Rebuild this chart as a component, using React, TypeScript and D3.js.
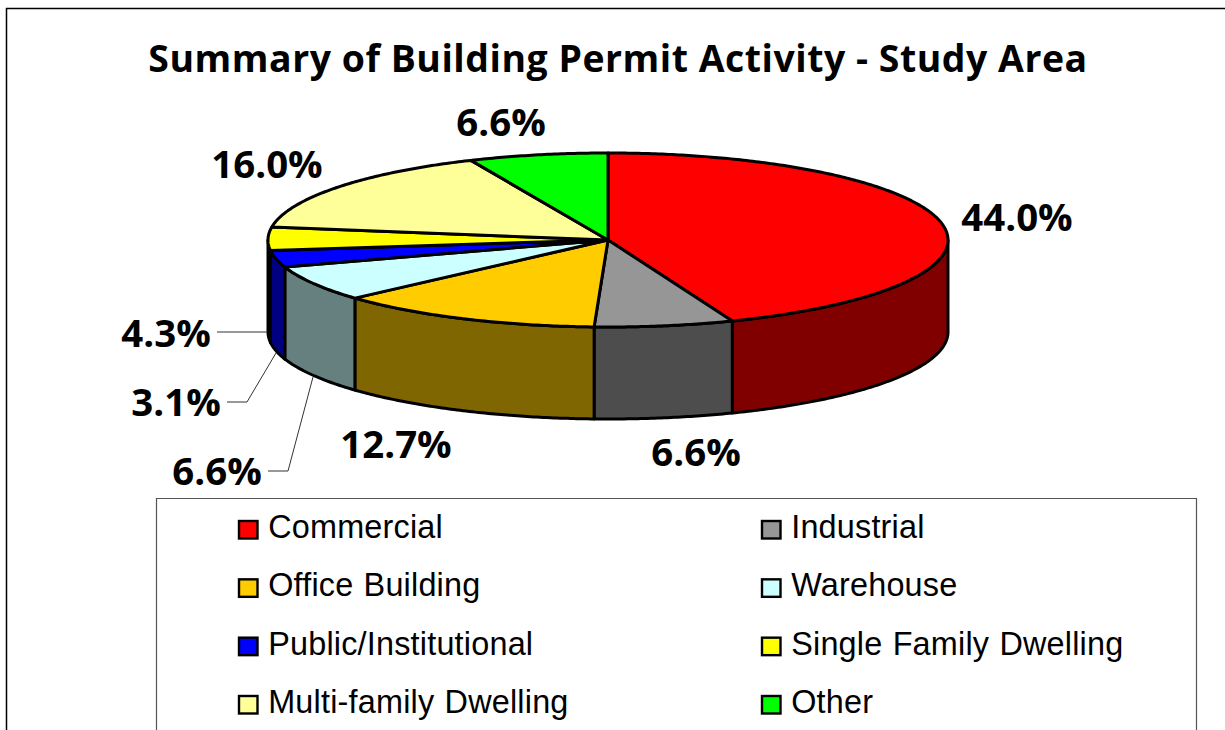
import React from 'react';
import * as d3 from 'd3';

const categories = ['Commercial', 'Industrial', 'Office Building', 'Warehouse', 'Public/Institutional', 'Single Family Dwelling', 'Multi-family Dwelling', 'Other'];
const shares = [44.0, 6.6, 12.7, 6.6, 3.1, 4.3, 16.0, 6.6];
const topColors = ['#ff0000', '#969696', '#ffcc00', '#ccffff', '#0000ff', '#ffff00', '#ffff99', '#00ff00'];
const sideColors = ['#800000', '#4d4d4d', '#806600', '#668080', '#000080', '#808000', '#808050', '#008000'];

const cx = 608, cy = 240, rx = 340, ry = 87, depth = 92;

// where each percent label sits, same order as the slices
const labelPos = [[1017, 231], [696, 466], [396, 458], [217, 485], [176, 416], [166, 347], [267, 178], [501, 136]];
const leaders = [
  null, null, null,
  [[268, 471], [288, 471], [313, 377]],
  [[227, 402], [247, 402], [276, 353]],
  [[217, 332], [267, 332]],
  null, null,
];

const rowY = d3.scaleLinear().domain([0, 3]).range([521, 696]);
const colX = d3.scaleOrdinal<number, number>().domain([0, 1]).range([239, 762]);

const px = (a: number) => cx + rx * Math.sin(a);
const py = (a: number) => cy - ry * Math.cos(a);
const line = d3.line<[number, number]>();

function rimPoints(a0: number, a1: number, dy: number): [number, number][] {
  const n = Math.max(2, Math.ceil(Math.abs(a1 - a0) / 0.01));
  return d3.range(n + 1).map((i) => {
    const a = a0 + ((a1 - a0) * i) / n;
    return [px(a), py(a) + dy] as [number, number];
  });
}

export default function App() {
  const arcs = d3.pie<number>().sort(null).value((d) => d)(shares);

  return (
    <svg width="1225" height="730" style={{ position: 'absolute', left: 0, top: 0, display: 'block' }}>
      <rect width="1225" height="730" fill="#fff" />
      <path d="M6.5 730V8.5H1225" fill="none" stroke="#000" strokeWidth="1.5" />
      <text x="618" y="72" textAnchor="middle" fontFamily="'Open Sans'" fontWeight="700" fontSize="37.4" letterSpacing="0.53">
        Summary of Building Permit Activity - Study Area
      </text>

      {arcs.map((d, i) => {
        // only the front half of the rim has a visible wall
        const a0 = Math.max(d.startAngle, Math.PI / 2);
        const a1 = Math.min(d.endAngle, (3 * Math.PI) / 2);
        if (a1 <= a0) return null;
        const pts = [...rimPoints(a0, a1, 0), ...rimPoints(a1, a0, depth)];
        return <path key={i} d={line(pts) + 'Z'} fill={sideColors[i]} stroke="#000" strokeWidth="3" strokeLinejoin="round" />;
      })}

      {arcs.map((d, i) => {
        const pts: [number, number][] = [[cx, cy], ...rimPoints(d.startAngle, d.endAngle, 0)];
        return <path key={i} d={line(pts) + 'Z'} fill={topColors[i]} stroke="#000" strokeWidth="3" strokeLinejoin="round" />;
      })}

      {leaders.map((l, i) =>
        l ? <path key={i} d={line(l as [number, number][]) as string} fill="none" stroke="#333" strokeWidth="1" /> : null
      )}

      {shares.map((v, i) => (
        <text key={i} x={labelPos[i][0]} y={labelPos[i][1]} textAnchor="middle" fontFamily="'Open Sans'" fontWeight="700" fontSize="38.4">
          {d3.format('.1f')(v)}%
        </text>
      ))}

      <path d="M156.5 730V498.5H1196.5V730" fill="none" stroke="#555" strokeWidth="1.2" />
      {categories.map((c, i) => {
        const col = i % 2;
        const row = Math.floor(i / 2);
        return (
          <g key={c}>
            <rect x={colX(col)} y={rowY(row)} width="18.5" height="17.5" fill={topColors[i]} stroke="#000" strokeWidth="2.4" />
            <text x={colX(col) + 29.2} y={rowY(row) + 17} fontFamily="'Liberation Sans'" fontSize="32.4" wordSpacing="1" letterSpacing="0.2">
              {c}
            </text>
          </g>
        );
      })}
    </svg>
  );
}
